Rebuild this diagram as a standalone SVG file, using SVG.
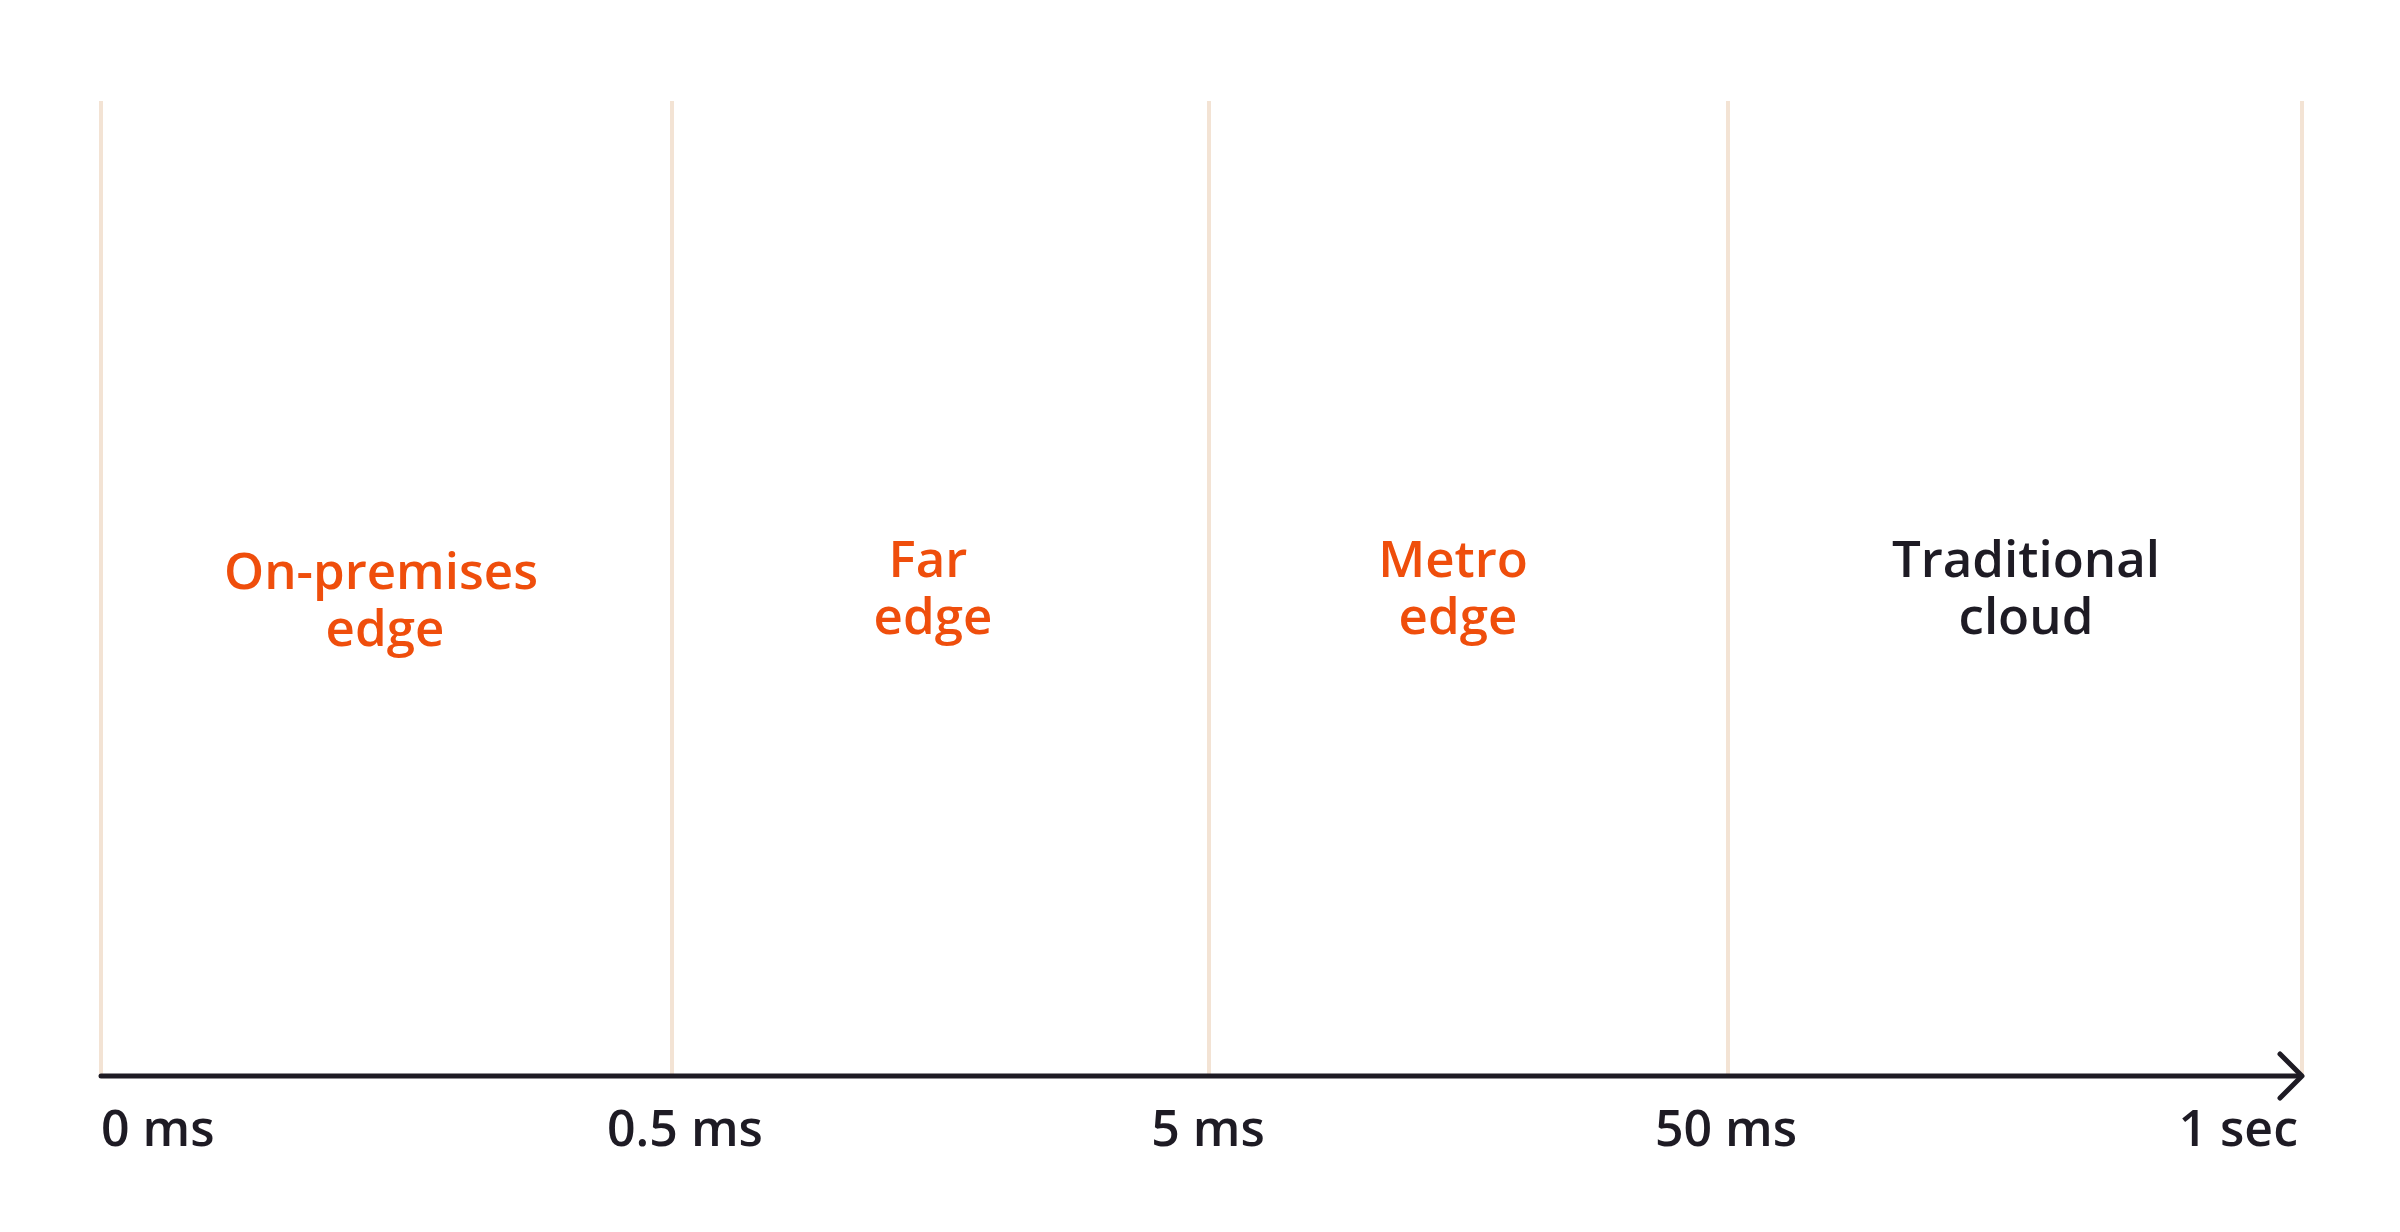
<svg xmlns="http://www.w3.org/2000/svg" width="2400" height="1232" viewBox="0 0 2400 1232">
<style>
.bg{fill:#ffffff}
.grid{stroke:#F3E3D4;stroke-width:4;fill:none}
.axis{stroke:#1E1B24;stroke-width:5;fill:none;stroke-linecap:round;stroke-linejoin:round}
.title{font-family:"Open Sans","Liberation Sans",sans-serif;font-weight:600;font-size:51px;text-anchor:middle}
.orange{fill:#EF4E0C}
.dark{fill:#1E1B24}
.tick{font-family:"Open Sans","Liberation Sans",sans-serif;font-weight:600;font-size:50px;fill:#1E1B24}
</style>
<rect class="bg" x="0" y="0" width="2400" height="1232"/>
<g id="gridlines">
<line class="grid" x1="101" y1="101" x2="101" y2="1076"/>
<line class="grid" x1="672" y1="101" x2="672" y2="1076"/>
<line class="grid" x1="1209" y1="101" x2="1209" y2="1076"/>
<line class="grid" x1="1728" y1="101" x2="1728" y2="1076"/>
<line class="grid" x1="2302" y1="101" x2="2302" y2="1076"/>
</g>
<g id="connectors">
<line class="axis" x1="101" y1="1076" x2="2300" y2="1076"/>
<polyline class="axis" points="2280,1054 2302,1076 2280,1098"/>
</g>
<g id="on-premises-edge">
<text class="title orange"><tspan x="381" y="589">On-premises</tspan><tspan x="385" y="646">edge</tspan></text>
</g>
<g id="far-edge">
<text class="title orange"><tspan x="928" y="577">Far</tspan><tspan x="933" y="634">edge</tspan></text>
</g>
<g id="metro-edge">
<text class="title orange"><tspan x="1453" y="577">Metro</tspan><tspan x="1458" y="634">edge</tspan></text>
</g>
<g id="traditional-cloud">
<text class="title dark"><tspan x="2026" y="577">Traditional</tspan><tspan x="2026" y="634">cloud</tspan></text>
</g>
<g id="ticks">
<text class="tick" x="101" y="1146">0 ms</text>
<text class="tick" x="685" y="1146" text-anchor="middle">0.5 ms</text>
<text class="tick" x="1208" y="1146" text-anchor="middle">5 ms</text>
<text class="tick" x="1726" y="1146" text-anchor="middle">50 ms</text>
<text class="tick" x="2298" y="1146" text-anchor="end">1 sec</text>
</g>
</svg>
